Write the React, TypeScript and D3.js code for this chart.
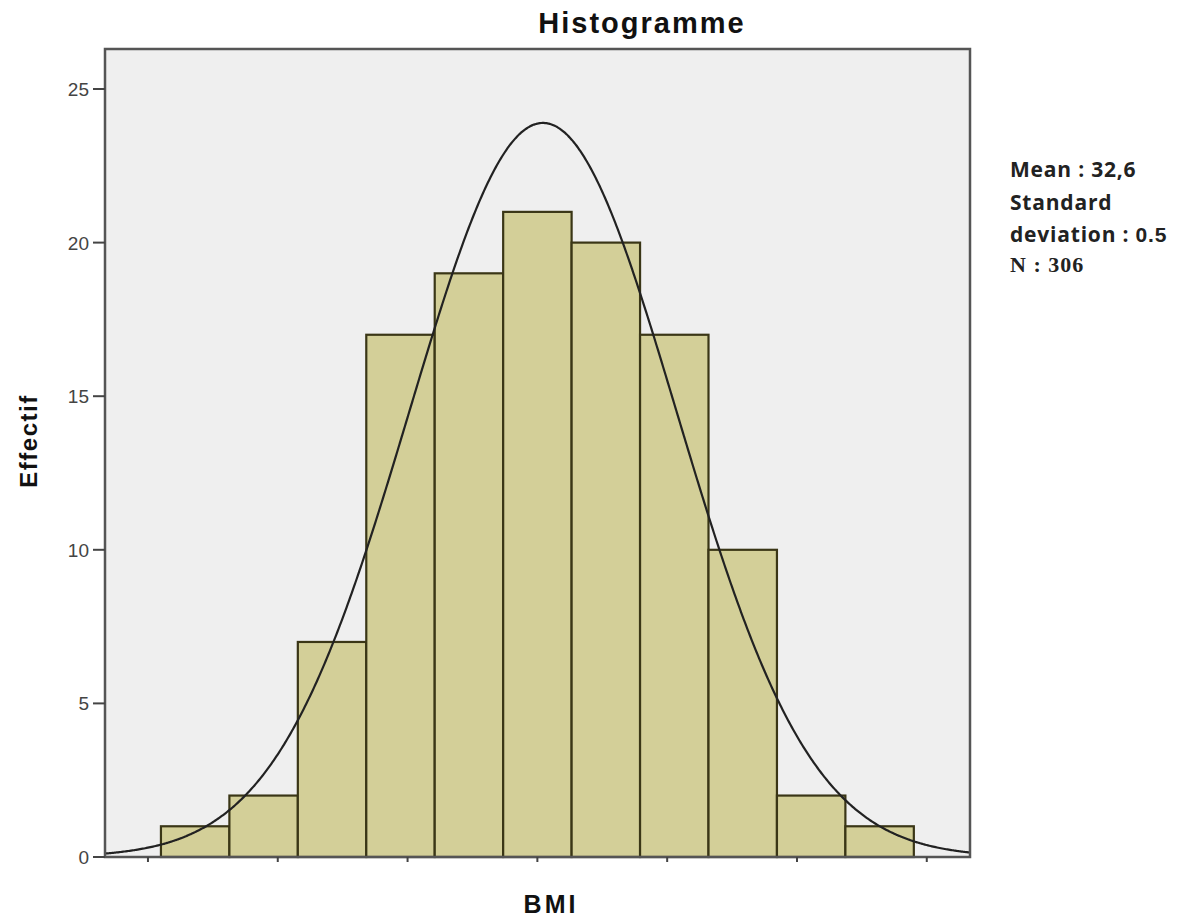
import React from "react";
import * as d3 from "d3";

// Data
const binCounts = [1, 2, 7, 17, 19, 21, 20, 17, 10, 2, 1];
const binStart = 0.1; // x units (ticks every 1 unit, unlabeled)
const binWidth = 0.5273;
const xTicks = [0, 1, 2, 3, 4, 5, 6];
const yTicks = [0, 5, 10, 15, 20, 25];
const curveMean = 3.043;
const curveSd = 1.03;
const statLines = ["Mean : 32,6", "Standard", "deviation : "];

const W = 1177;
const H = 919;
const left = 105, right = 970, top = 49, bottom = 857;

export default function App() {
  const x = d3.scaleLinear().domain([-0.331, 6.333]).range([left, right]);
  const y = d3.scaleLinear().domain([0, 25]).range([bottom, 89]);
  const N = d3.sum(binCounts);
  const bins = binCounts.map((c, i) => ({
    x0: binStart + i * binWidth,
    x1: binStart + (i + 1) * binWidth,
    c,
  }));
  const pdf = (v: number) =>
    (N * binWidth) / (curveSd * Math.sqrt(2 * Math.PI)) *
    Math.exp(-0.5 * ((v - curveMean) / curveSd) ** 2);
  const xs = d3.range(-0.331, 6.333 + 1e-9, 0.01);
  const line = d3
    .line<number>()
    .x((v) => x(v))
    .y((v) => y(pdf(v)))
    .curve(d3.curveBasis);

  return (
    <svg
      width={W}
      height={H}
      style={{ position: "absolute", left: 0, top: 0, background: "#fff" }}
      fontFamily="'Liberation Sans', Arial, sans-serif"
    >
      <rect x={left} y={top} width={right - left} height={bottom - top} fill="#efefef" />
      {bins.map((b, i) => (
        <rect
          key={i}
          x={x(b.x0)}
          y={y(b.c)}
          width={x(b.x1) - x(b.x0)}
          height={y(0) - y(b.c)}
          fill="#d3cf98"
          stroke="#3a3616"
          strokeWidth={2.2}
        />
      ))}
      <path d={line(xs) || ""} fill="none" stroke="#222" strokeWidth={2.2} />
      <rect
        x={left}
        y={top}
        width={right - left}
        height={bottom - top}
        fill="none"
        stroke="#555"
        strokeWidth={2.5}
      />
      {yTicks.map((t) => (
        <g key={t}>
          <line x1={93} x2={left} y1={y(t)} y2={y(t)} stroke="#444" strokeWidth={2} />
          <text x={89} y={y(t) + 7} textAnchor="end" fontSize={19} fill="#444">
            {t}
          </text>
        </g>
      ))}
      {xTicks.map((t) => (
        <line key={t} x1={x(t)} x2={x(t)} y1={bottom} y2={bottom + 5} stroke="#444" strokeWidth={2} />
      ))}
      <text x={642} y={33} textAnchor="middle" fontSize={29} fontWeight="bold" fill="#111" letterSpacing={2}>
        Histogramme
      </text>
      <text
        transform={`translate(37,441) rotate(-90)`}
        textAnchor="middle"
        fontSize={24}
        fontWeight="bold"
        fill="#111"
        letterSpacing={1.5}
      >
        Effectif
      </text>
      <text x={551} y={913} textAnchor="middle" fontSize={25} fontWeight="bold" fill="#111" letterSpacing={3}>
        BMI
      </text>
      <g fontFamily="'Open Sans', Lato, sans-serif" fontWeight="bold" fill="#222" fontSize={21} letterSpacing={0.8}>
        <text x={1010} y={177}>{statLines[0]}</text>
        <text x={1010} y={210}>{statLines[1]}</text>
        <text x={1010} y={242}>
          {statLines[2]}
          <tspan fontFamily="'Liberation Sans', sans-serif" fontSize={21}>0.5</tspan>
        </text>
        <text x={1010} y={272} fontFamily="'Liberation Serif', serif" fontSize={22} letterSpacing={1}>
          N : 306
        </text>
      </g>
    </svg>
  );
}
